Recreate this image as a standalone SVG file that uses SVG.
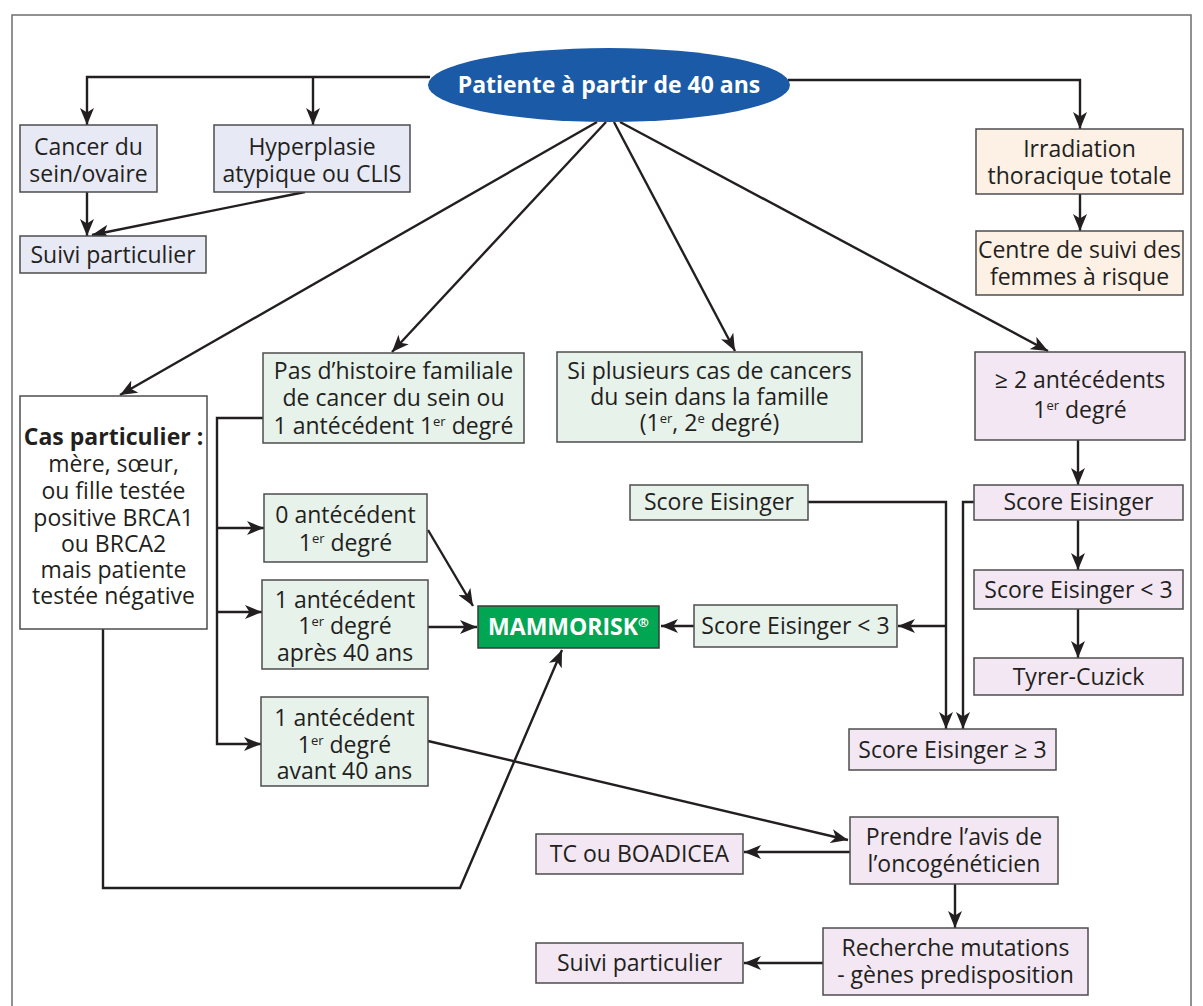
<svg xmlns="http://www.w3.org/2000/svg" width="1203" height="1006" viewBox="0 0 1203 1006">
<defs>
<marker id="ah" markerUnits="userSpaceOnUse" markerWidth="18" markerHeight="14" refX="17" refY="7" orient="auto">
<path d="M0,0 L17,7 L0,14 L4.5,7 z" fill="#231f20"/>
</marker>
<style>
text{font-family:"Open Sans","Noto Sans","Liberation Sans",sans-serif;font-size:23px;fill:#231f20;text-anchor:middle}
.b{stroke:#4d4d4d;stroke-width:1.5}
.blue{fill:#e7e9f5}
.peach{fill:#fdf0e5}
.green{fill:#e7f2eb}
.pink{fill:#f2e7f2}
.white{fill:#ffffff}
.c{fill:none;stroke:#231f20;stroke-width:2.4}
.a{marker-end:url(#ah)}
.sup{font-size:13px}
</style>
</defs>
<rect x="0" y="0" width="1203" height="1006" fill="#ffffff"/>
<rect x="12" y="15" width="1179" height="1010" fill="none" stroke="#6d6d6d" stroke-width="1.5"/>

<g id="connectors">
<path class="c a" d="M430,77 H87 V125"/>
<path class="c a" d="M313,77 V125"/>
<path class="c a" d="M788,80 H1080 V129"/>
<path class="c a" d="M87,192 V236"/>
<path class="c a" d="M305,192 L92,235"/>
<path class="c a" d="M1080,194 V231"/>
<path class="c a" d="M597,122 L120,395"/>
<path class="c a" d="M606,122 L392,352"/>
<path class="c a" d="M614,122 L735,351"/>
<path class="c a" d="M620,122 L1048,351"/>
<path class="c a" d="M263,418 H217 V744 H261"/>
<path class="c a" d="M217,528 H264"/>
<path class="c a" d="M217,612 H262"/>
<path class="c a" d="M103,629 V888 H460 L562,650"/>
<path class="c a" d="M428,530 L473,606"/>
<path class="c a" d="M428,627 H477"/>
<path class="c a" d="M694,626 H661"/>
<path class="c a" d="M808,502 H946 V729"/>
<path class="c a" d="M946,626 H898"/>
<path class="c a" d="M974,502 H963 V729"/>
<path class="c a" d="M1078,440 V485"/>
<path class="c a" d="M1078,520 V570"/>
<path class="c a" d="M1078,609 V658"/>
<path class="c a" d="M428,741 L848,840"/>
<path class="c a" d="M850,852 H744"/>
<path class="c a" d="M955,884 V928"/>
<path class="c a" d="M823,963 H744"/>
</g>

<g id="n-root">
<ellipse cx="609" cy="85" rx="181" ry="37" fill="#1b5aa6"/>
<text x="609" y="93" style="fill:#ffffff;font-weight:bold;font-size:23px">Patiente à partir de 40 ans</text>
</g>

<g id="n-cancer">
<rect class="b blue" x="20" y="125" width="137" height="67"/>
<text x="88.5" y="155">Cancer du</text>
<text x="88.5" y="182">sein/ovaire</text>
</g>
<g id="n-hyper">
<rect class="b blue" x="214" y="125" width="196" height="67"/>
<text x="312" y="155">Hyperplasie</text>
<text x="312" y="182">atypique ou CLIS</text>
</g>
<g id="n-suivi1">
<rect class="b blue" x="20" y="236" width="186" height="37"/>
<text x="113" y="263">Suivi particulier</text>
</g>
<g id="n-irrad">
<rect class="b peach" x="976" y="129" width="207" height="65"/>
<text x="1079.5" y="157">Irradiation</text>
<text x="1079.5" y="184">thoracique totale</text>
</g>
<g id="n-centre">
<rect class="b peach" x="976" y="231" width="207" height="64"/>
<text x="1079.5" y="258">Centre de suivi des</text>
<text x="1079.5" y="285">femmes à risque</text>
</g>

<g id="n-cas">
<rect class="b white" x="20" y="396" width="187" height="233"/>
<text x="113.5" y="445" style="font-weight:bold">Cas particulier :</text>
<text x="113.5" y="472">mère, sœur,</text>
<text x="113.5" y="499">ou fille testée</text>
<text x="113.5" y="526">positive BRCA1</text>
<text x="113.5" y="552">ou BRCA2</text>
<text x="113.5" y="578">mais patiente</text>
<text x="113.5" y="604">testée négative</text>
</g>

<g id="n-pas">
<rect class="b green" x="263" y="353" width="261" height="90"/>
<text x="393.5" y="379">Pas d’histoire familiale</text>
<text x="393.5" y="406">de cancer du sein ou</text>
<text x="393.5" y="434">1 antécédent 1<tspan class="sup" dy="-8">er</tspan><tspan dy="8"> degré</tspan></text>
</g>

<g id="n-plusieurs">
<rect class="b green" x="557" y="352" width="305" height="90"/>
<text x="709.5" y="379">Si plusieurs cas de cancers</text>
<text x="709.5" y="405">du sein dans la famille</text>
<text x="709.5" y="431">(1<tspan class="sup" dy="-8">er</tspan><tspan dy="8">, 2</tspan><tspan class="sup" dy="-8">e</tspan><tspan dy="8"> degré)</tspan></text>
</g>

<g id="n-deux">
<rect class="b pink" x="975" y="352" width="210" height="88"/>
<text x="1080" y="388">≥ 2 antécédents</text>
<text x="1080" y="418">1<tspan class="sup" dy="-8">er</tspan><tspan dy="8"> degré</tspan></text>
</g>

<g id="n-score-mid">
<rect class="b green" x="630" y="485" width="178" height="35"/>
<text x="719" y="510">Score Eisinger</text>
</g>
<g id="n-score-right">
<rect class="b pink" x="974" y="485" width="209" height="35"/>
<text x="1078.5" y="510">Score Eisinger</text>
</g>

<g id="n-zero">
<rect class="b green" x="264" y="494" width="163" height="68"/>
<text x="345.5" y="523">0 antécédent</text>
<text x="345.5" y="551">1<tspan class="sup" dy="-8">er</tspan><tspan dy="8"> degré</tspan></text>
</g>
<g id="n-apres">
<rect class="b green" x="262" y="580" width="166" height="89"/>
<text x="345" y="608">1 antécédent</text>
<text x="345" y="634">1<tspan class="sup" dy="-8">er</tspan><tspan dy="8"> degré</tspan></text>
<text x="345" y="661">après 40 ans</text>
</g>
<g id="n-mammo">
<rect x="478" y="606" width="181" height="42" fill="#00a651" stroke="#3a3a3a" stroke-width="1.5"/>
<text x="568.5" y="635" style="fill:#ffffff;font-weight:bold">MAMMORISK<tspan class="sup" dy="-8">®</tspan></text>
</g>
<g id="n-inf-mid">
<rect class="b green" x="694" y="605" width="203" height="42"/>
<text x="795.5" y="634">Score Eisinger &lt; 3</text>
</g>
<g id="n-inf-right">
<rect class="b pink" x="974" y="570" width="209" height="39"/>
<text x="1078.5" y="598">Score Eisinger &lt; 3</text>
</g>
<g id="n-tyrer">
<rect class="b pink" x="974" y="658" width="209" height="37"/>
<text x="1078.5" y="685">Tyrer-Cuzick</text>
</g>
<g id="n-avant">
<rect class="b green" x="261" y="697" width="167" height="89"/>
<text x="344.5" y="726">1 antécédent</text>
<text x="344.5" y="753">1<tspan class="sup" dy="-8">er</tspan><tspan dy="8"> degré</tspan></text>
<text x="344.5" y="779">avant 40 ans</text>
</g>
<g id="n-sup3">
<rect class="b pink" x="849" y="729" width="207" height="41"/>
<text x="952.5" y="758">Score Eisinger ≥ 3</text>
</g>
<g id="n-prendre">
<rect class="b pink" x="850" y="817" width="208" height="67"/>
<text x="954" y="845">Prendre l’avis de</text>
<text x="954" y="872">l’oncogénéticien</text>
</g>
<g id="n-tc">
<rect class="b pink" x="536" y="834" width="207" height="40"/>
<text x="639.5" y="862">TC ou BOADICEA</text>
</g>
<g id="n-recherche">
<rect class="b pink" x="823" y="928" width="265" height="67"/>
<text x="955.5" y="956">Recherche mutations</text>
<text x="955.5" y="983">- gènes predisposition</text>
</g>
<g id="n-suivi2">
<rect class="b pink" x="536" y="943" width="207" height="40"/>
<text x="639.5" y="971">Suivi particulier</text>
</g>
</svg>
